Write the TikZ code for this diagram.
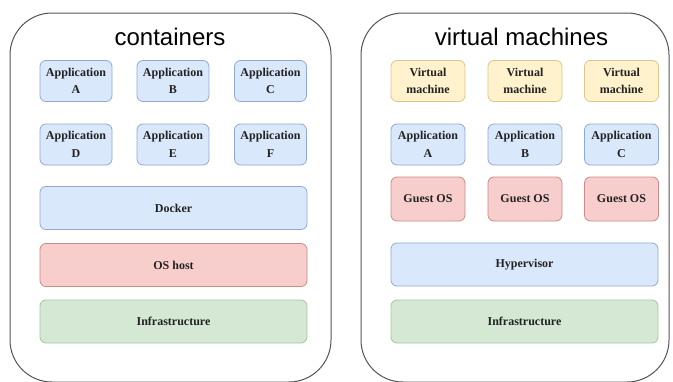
\documentclass[tikz,border=0pt]{standalone}
\usepackage{fontspec}
\setmainfont{Liberation Serif}
\newfontfamily\titlefont{Liberation Sans}
\definecolor{bluefill}{HTML}{DAE8FC}
\definecolor{bluedraw}{HTML}{8FA9CF}
\definecolor{redfill}{HTML}{F8CECC}
\definecolor{reddraw}{HTML}{C98A88}
\definecolor{greenfill}{HTML}{D5E8D4}
\definecolor{greendraw}{HTML}{A5C79A}
\definecolor{yellowfill}{HTML}{FFF2CC}
\definecolor{yellowdraw}{HTML}{DCC68A}
\definecolor{outerdraw}{HTML}{555555}
\definecolor{txt}{HTML}{222222}
\tikzset{
  layer/.style={rounded corners=6pt, line width=0.8pt, inner sep=0pt, align=center,
    text=txt, font=\fontsize{12}{17.5}\selectfont\bfseries},
  bluebox/.style={layer, fill=bluefill, draw=bluedraw},
  redbox/.style={layer, fill=redfill, draw=reddraw},
  greenbox/.style={layer, fill=greenfill, draw=greendraw},
  yellowbox/.style={layer, fill=yellowfill, draw=yellowdraw},
  small/.style={minimum width=72pt, minimum height=41pt},
  wide/.style={minimum width=267pt, minimum height=43pt},
  outer/.style={draw=outerdraw, line width=1pt, rounded corners=42pt},
  title/.style={font=\titlefont\fontsize{24}{28}\selectfont, text=black, inner sep=0pt}
}
\begin{document}
\begin{tikzpicture}[x=1pt,y=-1pt]
\useasboundingbox (0,0) rectangle (673,381);
\fill[white] (0,0) rectangle (673,381);
% outer frames
\draw[outer] (10,13) rectangle (331,382);
\draw[outer] (361,13) rectangle (669,382);
% titles
\node[title] (t1) at (170,37) {containers};
\node[title] (t2) at (521.5,37) {virtual machines};
% containers
\node[bluebox, small] (ca) at (76,81) {Application\\A};
\node[bluebox, small] (cb) at (173,81) {Application\\B};
\node[bluebox, small] (cc) at (270.5,81) {Application\\C};
\node[bluebox, small] (cd) at (76,144.5) {Application\\D};
\node[bluebox, small] (ce) at (173,144.5) {Application\\E};
\node[bluebox, small] (cf) at (270.5,144.5) {Application\\F};
\node[bluebox, wide] (docker) at (173.5,208) {Docker};
\node[redbox, wide] (oshost) at (173.5,265) {OS host};
\node[greenbox, wide] (infra1) at (173.5,321.5) {Infrastructure};
% virtual machines
\node[yellowbox, small, minimum width=74pt] (v1) at (428,81) {Virtual\\machine};
\node[yellowbox, small, minimum width=74pt] (v2) at (525,81) {Virtual\\machine};
\node[yellowbox, small, minimum width=74pt] (v3) at (621.5,81) {Virtual\\machine};
\node[bluebox, small, minimum width=74pt] (va) at (428,144.5) {Application\\A};
\node[bluebox, small, minimum width=74pt] (vb) at (525,144.5) {Application\\B};
\node[bluebox, small, minimum width=74pt] (vc) at (621.5,144.5) {Application\\C};
\node[redbox, small, minimum width=74pt, minimum height=44pt] (g1) at (428,199) {Guest OS};
\node[redbox, small, minimum width=74pt, minimum height=44pt] (g2) at (525,199) {Guest OS};
\node[redbox, small, minimum width=74pt, minimum height=44pt] (g3) at (621.5,199) {Guest OS};
\node[bluebox, wide] (hyper) at (524.5,264.5) {Hypervisor};
\node[greenbox, wide] (infra2) at (524.5,321.5) {Infrastructure};
\end{tikzpicture}
\end{document}
